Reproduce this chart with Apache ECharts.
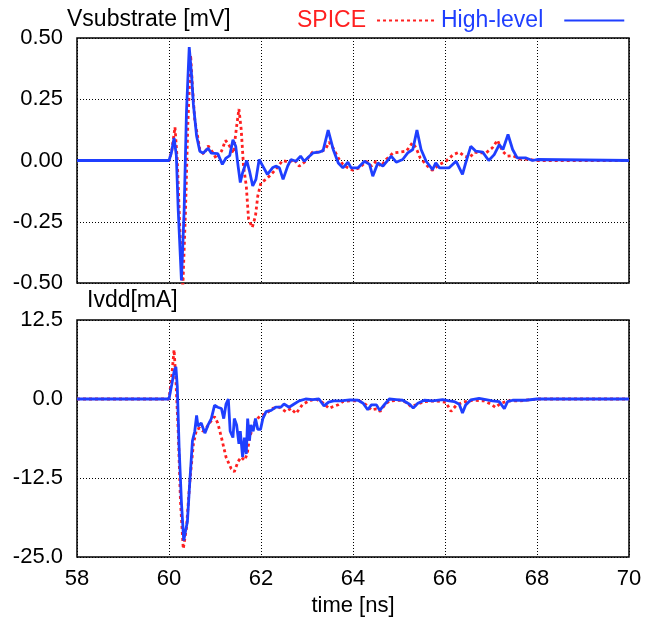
<!DOCTYPE html>
<html><head><meta charset="utf-8">
<script src="https://cdn.jsdelivr.net/npm/echarts@6/dist/echarts.min.js"></script>
<style>html,body{margin:0;padding:0;background:#fff}#c{width:655px;height:618px}</style>
</head><body><div id="c"></div>
<script>
// ---- data ----
const xTicks = [58, 60, 62, 64, 66, 68, 70];
const vTicks = [-0.5, -0.25, 0, 0.25, 0.5];
const iTicks = [-25, -12.5, 0, 12.5];

// Vsubstrate [mV], SPICE
const spiceVt = [58,60,60.06,60.13,60.18,60.24,60.3,60.36,60.41,60.47,60.51,60.56,60.67,60.76,60.85,60.96,61.03,61.14,61.23,61.32,61.4,61.47,61.52,61.57,61.62,61.68,61.73,61.81,61.88,61.93,62.0,62.11,62.22,62.32,62.47,62.61,62.72,62.83,62.97,63.12,63.26,63.4,63.48,63.57,63.68,63.78,63.89,64.0,64.14,64.29,64.4,64.5,64.61,64.72,64.87,65.01,65.16,65.29,65.37,65.46,65.62,65.73,65.88,66.02,66.18,66.31,66.42,66.53,66.64,66.75,66.89,67.03,67.14,67.25,67.36,67.47,67.61,67.83,68.0,70];
const spiceV = [0,0,0.04,0.136,0.0,-0.3,-0.52,-0.2,0.15,0.43,0.3,0.166,0.045,0.025,0.06,0.03,0.007,0.038,0.082,0.058,0.03,0.139,0.21,0.126,-0.023,-0.104,-0.24,-0.273,-0.226,-0.145,-0.09,-0.077,-0.057,-0.036,0.0,-0.007,0.004,-0.023,-0.003,0.034,0.034,0.045,0.075,0.05,0.01,-0.016,-0.03,-0.04,-0.03,-0.003,-0.023,-0.003,-0.023,0.004,0.031,0.034,0.038,0.072,0.052,0.011,-0.023,-0.04,-0.016,-0.003,0.024,0.034,0.018,0.011,0.034,0.031,0.031,0.052,0.083,0.038,0.018,0.02,0.007,0.004,0,0];

// Vsubstrate [mV], High-level
const hlVt = [58,60,60.05,60.11,60.16,60.2,60.27,60.33,60.38,60.44,60.49,60.53,60.6,60.67,60.74,60.85,60.92,61.06,61.16,61.24,61.32,61.39,61.45,61.5,61.55,61.6,61.69,61.75,61.82,61.89,61.96,62.04,62.14,62.25,62.32,62.4,62.48,62.58,62.65,62.76,62.86,62.94,63.04,63.13,63.26,63.35,63.46,63.57,63.68,63.78,63.89,63.96,64.11,64.25,64.36,64.43,64.54,64.65,64.83,64.94,65.08,65.19,65.3,65.39,65.48,65.59,65.73,65.8,65.88,66.09,66.24,66.38,66.45,66.56,66.67,66.82,66.95,67.07,67.18,67.26,67.37,67.47,67.57,67.75,67.9,68.0,70];
const hlV = [0,0,0.03,0.092,0.02,-0.2,-0.49,-0.2,0.2,0.463,0.35,0.23,0.10,0.038,0.03,0.05,0.03,0.028,-0.016,0.01,0.02,0.085,0.058,-0.02,-0.09,-0.05,0.0,-0.043,-0.104,-0.077,0.004,-0.023,-0.057,-0.03,-0.023,-0.03,-0.077,-0.023,0.004,-0.003,0.018,-0.003,0.015,0.031,0.034,0.04,0.124,0.045,-0.01,-0.03,-0.007,-0.03,-0.03,-0.003,-0.016,-0.064,-0.01,-0.023,0.018,-0.007,0.004,0.031,0.045,0.124,0.045,-0.003,-0.037,-0.01,-0.03,-0.03,-0.003,-0.057,-0.01,0.058,0.038,0.034,0.0,0.024,0.065,0.045,0.106,0.045,0.011,0.011,0.0,0.004,0];

// Ivdd [mA], SPICE
const spiceIt = [58,60,60.06,60.11,60.15,60.2,60.25,60.31,60.38,60.45,60.53,60.6,60.67,60.74,60.81,60.88,60.99,61.06,61.14,61.24,61.35,61.42,61.5,61.57,61.64,61.7,61.75,61.82,61.89,62.0,62.11,62.25,62.4,62.54,62.65,62.76,62.9,63.04,63.19,63.33,63.48,63.57,63.68,63.78,63.93,64.14,64.29,64.4,64.51,64.59,64.69,64.79,65.01,65.16,65.26,65.37,65.55,65.81,66.02,66.13,66.24,66.38,66.6,66.85,67.0,67.1,67.21,67.39,67.61,67.9,68,70];
const spiceI = [0,0,3.6,7.8,3.0,-5.1,-16.3,-23.7,-20.4,-13.3,-7.1,-4.8,-4.6,-5.1,-4.6,-3.8,-2.8,-3.8,-6.1,-9.2,-11.0,-11.5,-9.9,-9.2,-9.7,-8.7,-6.1,-4.6,-3.3,-2.6,-2.3,-1.5,-1.3,-2.0,-1.5,-2.3,-0.9,-0.3,0,-0.5,-1.5,-1.2,-0.9,-0.4,-0.3,-0.3,-0.93,-1.75,-1.55,-1.96,-0.93,-0.3,-0.2,-0.52,-1.2,-0.93,-0.41,-0.3,-0.52,-1.96,-1.03,-0.52,-0.2,-0.3,-0.83,-1.34,-0.67,-0.3,-0.3,-0.1,0,0];

// Ivdd [mA], High-level
const hlIt = [58,60,60.06,60.11,60.15,60.18,60.22,60.27,60.32,60.35,60.4,60.45,60.51,60.56,60.6,60.63,60.7,60.78,60.85,60.92,60.99,61.06,61.14,61.19,61.24,61.29,61.33,61.39,61.42,61.47,61.52,61.55,61.6,61.64,61.68,61.71,61.75,61.78,61.83,61.88,61.93,61.99,62.04,62.11,62.22,62.32,62.43,62.5,62.61,62.72,62.83,62.97,63.12,63.26,63.37,63.47,63.58,63.73,63.93,64.11,64.22,64.32,64.4,64.51,64.58,64.69,64.79,64.94,65.08,65.23,65.31,65.41,65.55,65.73,65.95,66.09,66.2,66.31,66.38,66.45,66.56,66.74,66.89,67.03,67.18,67.29,67.36,67.47,67.75,68.0,70];
const hlI = [0,0,2.3,4.3,5.1,2.0,-7.7,-16.3,-22.4,-22.7,-19.4,-13.3,-6.6,-5.1,-2.6,-4.3,-3.8,-5.4,-4.1,-3.1,-1.0,-1.3,-1.5,-3.1,-0.8,0,-5.1,-6.1,-3.1,-4.1,-7.1,-5.1,-9.2,-6.1,-8.7,-3.1,-6.6,-4.1,-5.1,-3.1,-4.8,-4.8,-3.1,-2.0,-1.8,-1.3,-1.3,-0.8,-1.3,-0.8,-0.3,0,-0.1,0,-1.1,-0.5,-0.3,-0.3,-0.15,-0.2,-0.67,-1.7,-0.93,-0.93,-1.8,-0.83,0,-0.1,-0.2,-0.83,-1.44,-0.67,-0.2,-0.3,-0.1,-0.3,-0.41,-0.83,-2.2,-0.93,-0.15,0.1,-0.1,-0.3,-0.41,-1.55,-0.41,-0.2,-0.2,0,0];

const zip = (a, b) => a.map((t, i) => [t, b[i]]);

const RED = '#ff2020', BLUE = '#1f3fff';
const FONT = 'Liberation Sans';
const FS = 23;   // titles / legend
const TFS = 22;  // tick labels

const chart = echarts.init(document.getElementById('c'), null, {renderer: 'canvas'});

const splitStyle = {show: true, lineStyle: {color: '#000', width: 1, type: [1, 2]}};
const xAxisBase = {
  type: 'value', min: xTicks[0], max: xTicks[xTicks.length - 1], interval: 2,
  axisLine: {show: false}, axisTick: {show: false}, splitLine: splitStyle
};
const redStyle = {color: RED, width: 2.8, type: [3, 3]};
const blueStyle = {color: BLUE, width: 2.8};

chart.setOption({
  animation: false,
  textStyle: {fontFamily: FONT},
  title: [
    {text: 'Vsubstrate [mV]', left: 62, top: 3, textStyle: {fontFamily: FONT, fontSize: FS, fontWeight: 'normal', color: '#000'}},
    {text: 'Ivdd[mA]', left: 82, top: 284, textStyle: {fontFamily: FONT, fontSize: FS, fontWeight: 'normal', color: '#000'}}
  ],
  legend: [
    {left: 292, top: 4, align: 'right', itemWidth: 58, itemHeight: 14, itemGap: 0,
     itemStyle: {opacity: 0},
     data: [{name: 'SPICE', textStyle: {color: RED}}],
     textStyle: {fontFamily: FONT, fontSize: FS, padding: [0, 6, 0, 0]}},
    {left: 436, top: 4, align: 'right', itemWidth: 60, itemHeight: 14, itemGap: 0,
     itemStyle: {opacity: 0},
     data: [{name: 'High-level', textStyle: {color: BLUE}}],
     textStyle: {fontFamily: FONT, fontSize: FS, padding: [0, 16, 0, 0]}}
  ],
  grid: [
    {left: 77, right: 26, top: 38, height: 245, show: true, borderColor: '#000', borderWidth: 1.5, backgroundColor: 'transparent'},
    {left: 77, right: 26, top: 320, height: 242, show: true, borderColor: '#000', borderWidth: 1.5, backgroundColor: 'transparent'}
  ],
  xAxis: [
    Object.assign({gridIndex: 0, axisLabel: {show: false}}, xAxisBase),
    Object.assign({gridIndex: 1, name: 'time [ns]', nameLocation: 'middle', nameGap: 38,
      nameTextStyle: {fontFamily: FONT, fontSize: TFS, color: '#000'},
      axisLabel: {show: true, fontFamily: FONT, fontSize: TFS, color: '#000', margin: 11}}, xAxisBase)
  ],
  yAxis: [
    {gridIndex: 0, type: 'value', min: vTicks[0], max: vTicks[vTicks.length - 1], interval: 0.25,
     axisLine: {show: false}, axisTick: {show: false}, splitLine: splitStyle,
     axisLabel: {fontFamily: FONT, fontSize: TFS, color: '#000', margin: 14, formatter: v => v.toFixed(2)}},
    {gridIndex: 1, type: 'value', min: iTicks[0], max: iTicks[iTicks.length - 1], interval: 12.5,
     axisLine: {show: false}, axisTick: {show: false}, splitLine: splitStyle,
     axisLabel: {fontFamily: FONT, fontSize: TFS, color: '#000', margin: 14, formatter: v => v.toFixed(1)}}
  ],
  series: [
    {name: 'SPICE', type: 'line', xAxisIndex: 0, yAxisIndex: 0, data: zip(spiceVt, spiceV), showSymbol: false, symbol: 'none', lineStyle: redStyle, itemStyle: {color: RED}, clip: true},
    {name: 'High-level', type: 'line', xAxisIndex: 0, yAxisIndex: 0, data: zip(hlVt, hlV), showSymbol: false, symbol: 'none', lineStyle: blueStyle, itemStyle: {color: BLUE}, clip: true},
    {name: 'SPICE', type: 'line', xAxisIndex: 1, yAxisIndex: 1, data: zip(spiceIt, spiceI), showSymbol: false, symbol: 'none', lineStyle: redStyle, itemStyle: {color: RED}, clip: true},
    {name: 'High-level', type: 'line', xAxisIndex: 1, yAxisIndex: 1, data: zip(hlIt, hlI), showSymbol: false, symbol: 'none', lineStyle: blueStyle, itemStyle: {color: BLUE}, clip: true}
  ]
});
</script>
</body></html>
